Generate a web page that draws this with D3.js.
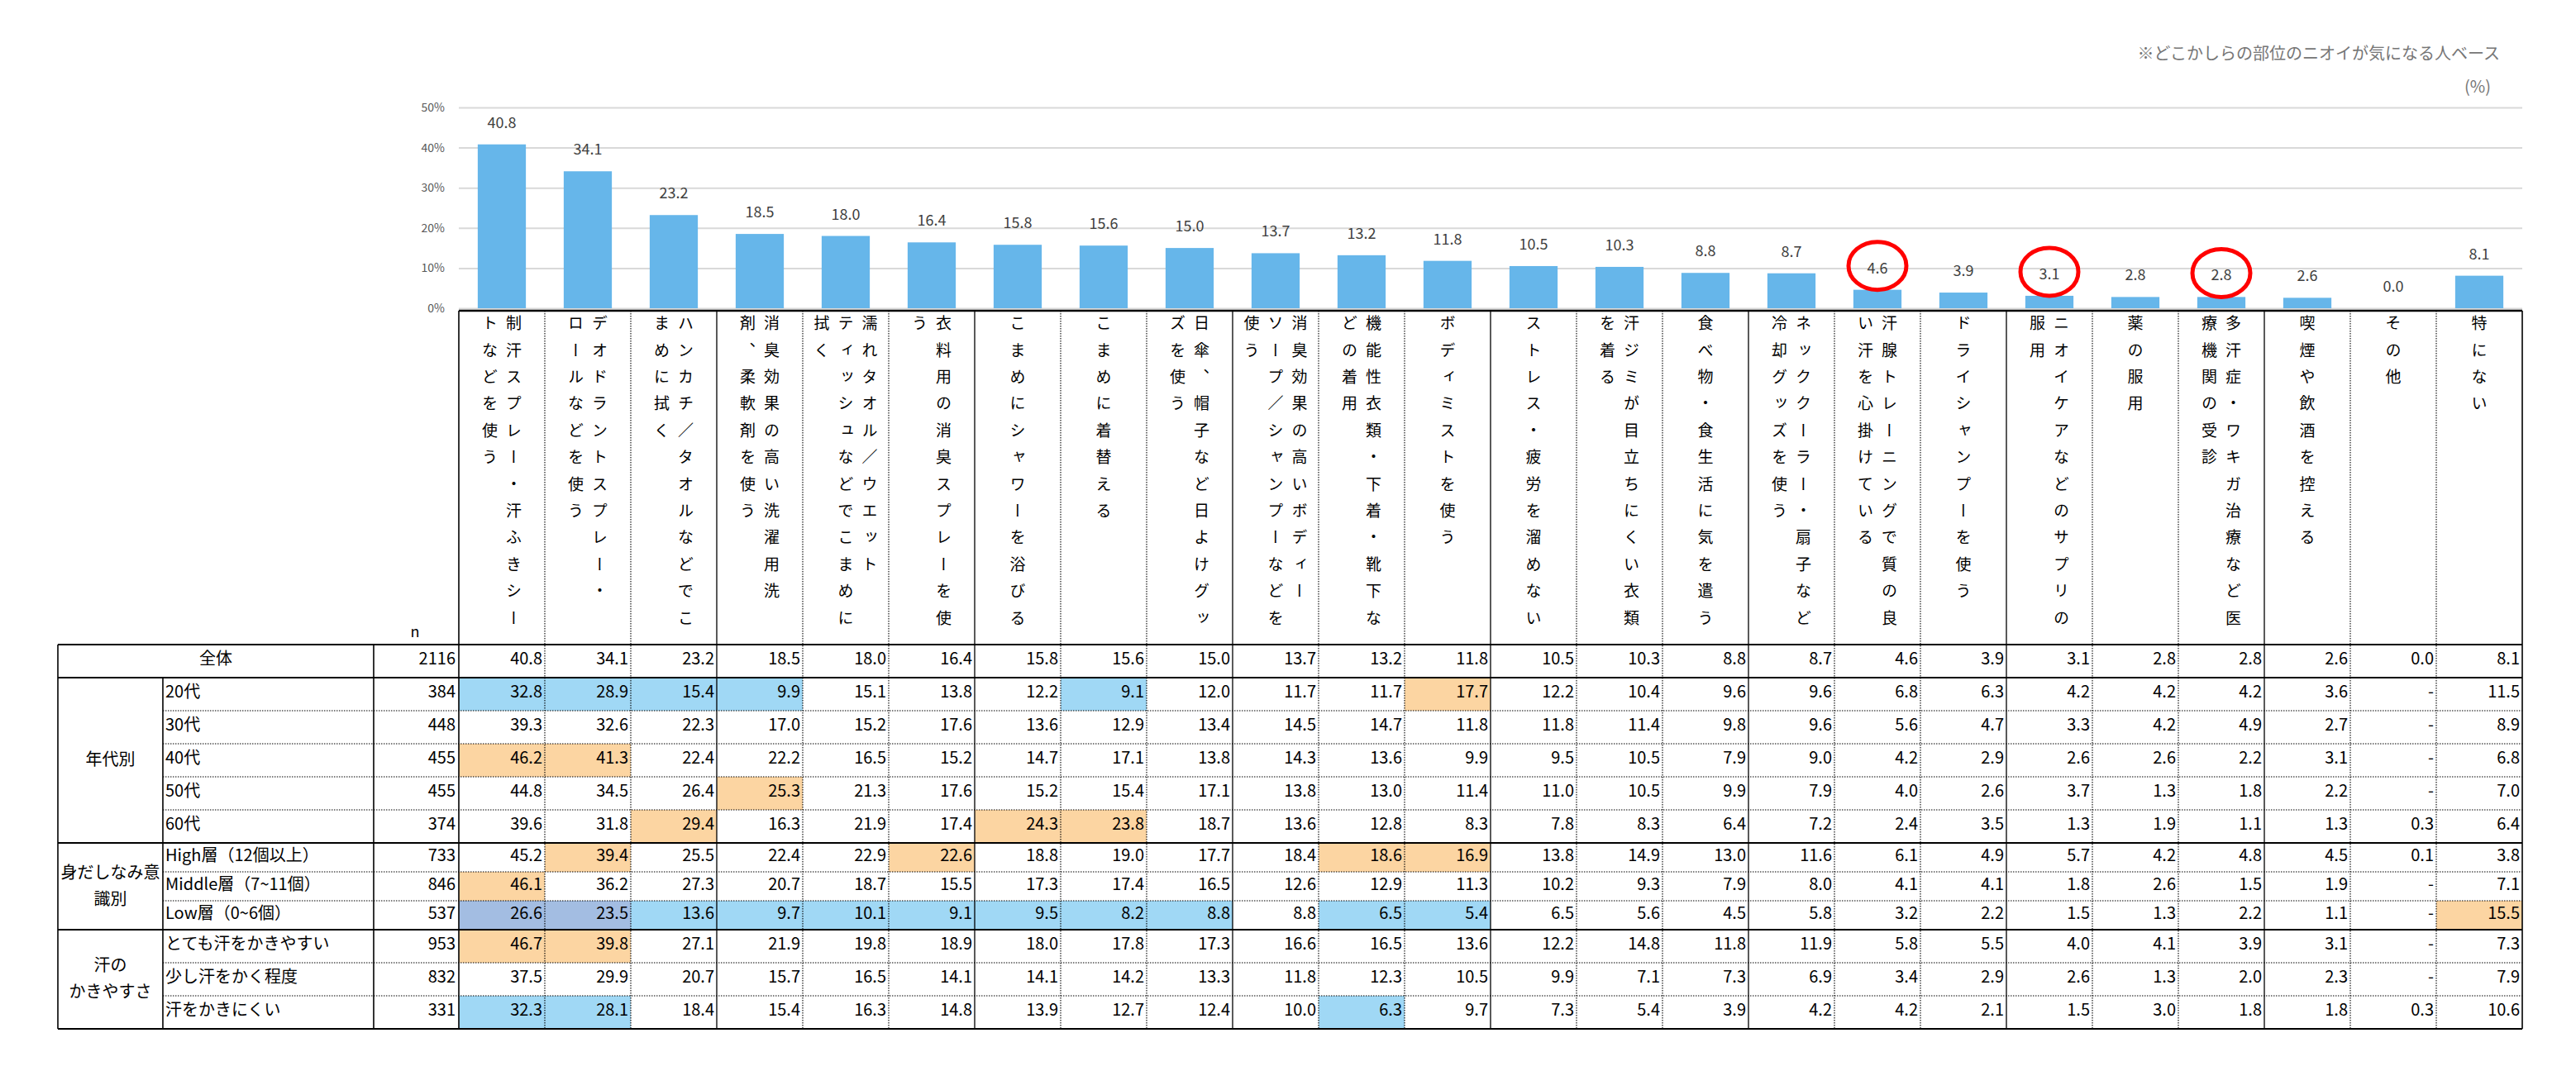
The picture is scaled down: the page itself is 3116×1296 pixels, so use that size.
<!DOCTYPE html>
<html>
<head>
<meta charset="utf-8">
<script src="https://cdn.jsdelivr.net/npm/d3@7"></script>
<style>
  body { margin: 0; background: #fff; }
  text { font-family: "Noto Sans CJK JP", "Noto Sans", sans-serif; }
</style>
</head>
<body>
<svg id="chart" width="3116" height="1296"></svg>
<script>
// categories, "|" marks where the vertical label wraps to the next column
var categories = [
  "制汗スプレー・汗ふきシー|トなどを使う",
  "デオドラントスプレー・|ロールなどを使う",
  "ハンカチ／タオルなどでこ|まめに拭く",
  "消臭効果の高い洗濯用洗|剤、柔軟剤を使う",
  "濡れタオル／ウエット|ティッシュなどでこまめに|拭く",
  "衣料用の消臭スプレーを使|う",
  "こまめにシャワーを浴びる",
  "こまめに着替える",
  "日傘、帽子など日よけグッ|ズを使う",
  "消臭効果の高いボディー|ソープ／シャンプーなどを|使う",
  "機能性衣類・下着・靴下な|どの着用",
  "ボディミストを使う",
  "ストレス・疲労を溜めない",
  "汗ジミが目立ちにくい衣類|を着る",
  "食べ物・食生活に気を遣う",
  "ネッククーラー・扇子など|冷却グッズを使う",
  "汗腺トレーニングで質の良|い汗を心掛けている",
  "ドライシャンプーを使う",
  "ニオイケアなどのサプリの|服用",
  "薬の服用",
  "多汗症・ワキガ治療など医|療機関の受診",
  "喫煙や飲酒を控える",
  "その他",
  "特にない"
];
var totalN = 2116;
var totalValues = [40.8, 34.1, 23.2, 18.5, 18.0, 16.4, 15.8, 15.6, 15.0, 13.7, 13.2, 11.8,
                   10.5, 10.3, 8.8, 8.7, 4.6, 3.9, 3.1, 2.8, 2.8, 2.6, 0.0, 8.1];
var yTicks = [0, 10, 20, 30, 40, 50];
var circledCategories = [16, 18, 20];

var groupLabels = [["年代別"], ["身だしなみ意", "識別"], ["汗の", "かきやすさ"]];
var rowGroup = [0, 0, 0, 0, 0, 1, 1, 1, 2, 2, 2];
var rowLabels = ["20代", "30代", "40代", "50代", "60代",
                 "High層（12個以上）", "Middle層（7~11個）", "Low層（0~6個）",
                 "とても汗をかきやすい", "少し汗をかく程度", "汗をかきにくい"];
var rowN = [384, 448, 455, 455, 374, 733, 846, 537, 953, 832, 331];
var rowValues = [
  [32.8, 28.9, 15.4, 9.9, 15.1, 13.8, 12.2, 9.1, 12.0, 11.7, 11.7, 17.7, 12.2, 10.4, 9.6, 9.6, 6.8, 6.3, 4.2, 4.2, 4.2, 3.6, null, 11.5],
  [39.3, 32.6, 22.3, 17.0, 15.2, 17.6, 13.6, 12.9, 13.4, 14.5, 14.7, 11.8, 11.8, 11.4, 9.8, 9.6, 5.6, 4.7, 3.3, 4.2, 4.9, 2.7, null, 8.9],
  [46.2, 41.3, 22.4, 22.2, 16.5, 15.2, 14.7, 17.1, 13.8, 14.3, 13.6, 9.9, 9.5, 10.5, 7.9, 9.0, 4.2, 2.9, 2.6, 2.6, 2.2, 3.1, null, 6.8],
  [44.8, 34.5, 26.4, 25.3, 21.3, 17.6, 15.2, 15.4, 17.1, 13.8, 13.0, 11.4, 11.0, 10.5, 9.9, 7.9, 4.0, 2.6, 3.7, 1.3, 1.8, 2.2, null, 7.0],
  [39.6, 31.8, 29.4, 16.3, 21.9, 17.4, 24.3, 23.8, 18.7, 13.6, 12.8, 8.3, 7.8, 8.3, 6.4, 7.2, 2.4, 3.5, 1.3, 1.9, 1.1, 1.3, 0.3, 6.4],
  [45.2, 39.4, 25.5, 22.4, 22.9, 22.6, 18.8, 19.0, 17.7, 18.4, 18.6, 16.9, 13.8, 14.9, 13.0, 11.6, 6.1, 4.9, 5.7, 4.2, 4.8, 4.5, 0.1, 3.8],
  [46.1, 36.2, 27.3, 20.7, 18.7, 15.5, 17.3, 17.4, 16.5, 12.6, 12.9, 11.3, 10.2, 9.3, 7.9, 8.0, 4.1, 4.1, 1.8, 2.6, 1.5, 1.9, null, 7.1],
  [26.6, 23.5, 13.6, 9.7, 10.1, 9.1, 9.5, 8.2, 8.8, 8.8, 6.5, 5.4, 6.5, 5.6, 4.5, 5.8, 3.2, 2.2, 1.5, 1.3, 2.2, 1.1, null, 15.5],
  [46.7, 39.8, 27.1, 21.9, 19.8, 18.9, 18.0, 17.8, 17.3, 16.6, 16.5, 13.6, 12.2, 14.8, 11.8, 11.9, 5.8, 5.5, 4.0, 4.1, 3.9, 3.1, null, 7.3],
  [37.5, 29.9, 20.7, 15.7, 16.5, 14.1, 14.1, 14.2, 13.3, 11.8, 12.3, 10.5, 9.9, 7.1, 7.3, 6.9, 3.4, 2.9, 2.6, 1.3, 2.0, 2.3, null, 7.9],
  [32.3, 28.1, 18.4, 15.4, 16.3, 14.8, 13.9, 12.7, 12.4, 10.0, 6.3, 9.7, 7.3, 5.4, 3.9, 4.2, 4.2, 2.1, 1.5, 3.0, 1.8, 1.8, 0.3, 10.6]
];
// cells that show the darker (selected) blue in the sheet: [row, column]
var selectedCells = [[7, 0], [7, 1]];

var svg = d3.select("#chart");

var left = 555, right = 3051;
var x = d3.scaleBand().domain(d3.range(categories.length)).range([left, right]);
var bw = x.bandwidth();
var y = d3.scaleLinear().domain([0, 50]).range([373, 130]);

// note + unit
svg.append("text").text("※どこかしらの部位のニオイが気になる人ベース")
  .attr("x", 3024).attr("y", 72).attr("text-anchor", "end")
  .attr("fill", "#767676").style("font-size", "20px");
svg.append("text").text("(%)")
  .attr("x", 3013).attr("y", 112).attr("text-anchor", "end")
  .attr("fill", "#767676").style("font-size", "20px");

// y axis with gridlines
var yAxis = d3.axisLeft(y).tickValues(yTicks).tickSize(-(right - left)).tickPadding(17)
  .tickFormat(function (d) { return d + "%"; });
var gy = svg.append("g").attr("transform", "translate(" + left + ",0)").call(yAxis);
gy.select(".domain").remove();
gy.selectAll(".tick line").attr("stroke", "#d9d9d9").attr("stroke-width", 2);
gy.selectAll(".tick text").attr("fill", "#595959")
  .style("font-size", "14px").style("font-family", "'Noto Sans CJK JP', sans-serif");

// bars
svg.append("g").selectAll("rect").data(totalValues).enter().append("rect")
  .attr("x", function (d, i) { return x(i) + (bw - bw * 0.56) / 2; })
  .attr("width", bw * 0.56)
  .attr("y", function (d) { return y(d); })
  .attr("height", function (d) { return y(0) - y(d); })
  .attr("fill", "#66b6ea");

svg.append("g").selectAll("text").data(totalValues).enter().append("text")
  .text(function (d) { return d.toFixed(1); })
  .attr("x", function (d, i) { return x(i) + bw / 2; })
  .attr("y", function (d) { return y(d) - 20; })
  .attr("text-anchor", "middle").attr("fill", "#404040").style("font-size", "18px");

// red circles
svg.append("g").selectAll("ellipse").data(circledCategories).enter().append("ellipse")
  .attr("cx", function (i) { return x(i) + bw / 2; })
  .attr("cy", function (i) { return y(totalValues[i]) - 29; })
  .attr("rx", 35).attr("ry", 29)
  .attr("fill", "none").attr("stroke", "#ff0000").attr("stroke-width", 5);

// vertical header labels, one glyph at a time
var headTop = 376, firstChar = 391, charPitch = 32.4, colGap = 29;
var hl = svg.append("g").attr("fill", "#000");
categories.forEach(function (c, i) {
  var lines = c.split("|");
  var cx = x(i) + bw / 2;
  lines.forEach(function (ln, j) {
    var lx = cx + (lines.length - 1) / 2 * colGap - j * colGap;
    Array.from(ln).forEach(function (ch, k) {
      hl.append("text").text(ch)
        .attr("x", lx).attr("y", firstChar + k * charPitch)
        .attr("text-anchor", "middle")
        .style("writing-mode", "vertical-rl")
        .style("font-size", "19px");
    });
  });
});

// table rows
var rows = [{ label: "全体", n: totalN, values: totalValues, total: true }];
rowLabels.forEach(function (l, r) {
  rows.push({ label: l, n: rowN[r], values: rowValues[r], group: rowGroup[r], idx: r });
});
var heights = rows.map(function (d) { return d.total ? 40 : (d.group === 1 ? 35 : 40); });
var tops = [];
var acc = 780;
heights.forEach(function (h) { tops.push(acc); acc += h; });
var tableBottom = acc;

var colGroup = 70, colLabel = 197, colN = 452;

// highlight fills: +5pt orange, -5pt blue
var cells = svg.append("g");
rows.forEach(function (row, ri) {
  if (row.total) return;
  row.values.forEach(function (v, ci) {
    if (v === null) return;
    var diff = v - totalValues[ci];
    var fill = null;
    if (diff >= 5) fill = "#fcd5a2";
    if (diff <= -5) fill = "#a0d8f5";
    selectedCells.forEach(function (s) { if (s[0] === row.idx && s[1] === ci) fill = "#a3bde2"; });
    if (!fill) return;
    cells.append("rect").attr("x", x(ci)).attr("y", tops[ri])
      .attr("width", bw).attr("height", heights[ri]).attr("fill", fill);
  });
});

// table lines
var lines = svg.append("g").attr("stroke", "#000");
lines.append("line").attr("x1", left).attr("x2", right).attr("y1", headTop).attr("y2", headTop).attr("stroke-width", 2.5);
var thick = [780, tops[1], tops[6], tops[9], tableBottom];
thick.forEach(function (yy) {
  lines.append("line").attr("x1", colGroup).attr("x2", right).attr("y1", yy).attr("y2", yy).attr("stroke-width", 2.2);
});
rows.forEach(function (row, ri) {
  if (ri < 2 || ri === 6 || ri === 9) return;
  lines.append("line").attr("x1", colLabel).attr("x2", right).attr("y1", tops[ri]).attr("y2", tops[ri])
    .attr("stroke-width", 1.2).attr("stroke-dasharray", "1.5,1.5");
});
[[colGroup, 780], [colLabel, tops[1]], [colN, 780], [left, headTop], [right, headTop]].forEach(function (v) {
  lines.append("line").attr("x1", v[0]).attr("x2", v[0]).attr("y1", v[1]).attr("y2", tableBottom).attr("stroke-width", 1.6);
});
d3.range(1, categories.length).forEach(function (i) {
  var solid = i % 3 === 0;
  lines.append("line").attr("x1", x(i)).attr("x2", x(i)).attr("y1", headTop).attr("y2", tableBottom)
    .attr("stroke-width", solid ? 1.3 : 1.1).attr("stroke-dasharray", solid ? null : "1.5,1.5");
});

// table texts
var tt = svg.append("g").attr("fill", "#000").style("font-size", "20px");
tt.append("text").text("n").attr("x", 502).attr("y", 771).attr("text-anchor", "middle").style("font-size", "18px");
rows.forEach(function (row, ri) {
  var base = tops[ri] + heights[ri] / 2 + 4;
  if (row.total) {
    tt.append("text").text(row.label).attr("x", (colGroup + colN) / 2).attr("y", base).attr("text-anchor", "middle");
  } else {
    tt.append("text").text(row.label).attr("x", colLabel + 3).attr("y", base);
  }
  tt.append("text").text(row.n).attr("x", left - 4).attr("y", base).attr("text-anchor", "end");
  row.values.forEach(function (v, ci) {
    tt.append("text").text(v === null ? "-" : v.toFixed(1))
      .attr("x", x(ci) + bw - 3).attr("y", base).attr("text-anchor", "end");
  });
});

// group labels
var groupSpans = [[tops[1], tops[6]], [tops[6], tops[9]], [tops[9], tableBottom]];
groupLabels.forEach(function (g, gi) {
  var mid = (groupSpans[gi][0] + groupSpans[gi][1]) / 2;
  g.forEach(function (l, li) {
    tt.append("text").text(l).attr("x", (colGroup + colLabel) / 2)
      .attr("y", mid + 6 + (li - (g.length - 1) / 2) * 32).attr("text-anchor", "middle");
  });
});
</script>
</body>
</html>
